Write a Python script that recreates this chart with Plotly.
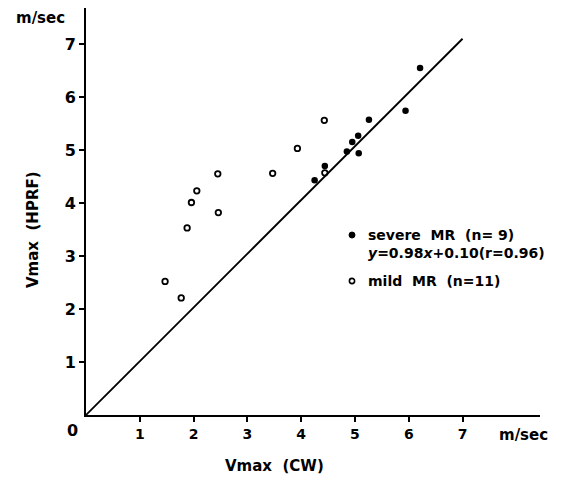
import plotly.graph_objects as go

# =============================================================================
# Data (m/sec)
# =============================================================================
severe_cw = [4.25, 4.44, 4.85, 4.95, 5.06, 5.07, 5.26, 5.94, 6.21]
severe_hprf = [4.43, 4.70, 4.97, 5.15, 5.27, 4.94, 5.57, 5.74, 6.55]

mild_cw = [1.47, 1.77, 1.88, 1.96, 2.06, 2.45, 2.46, 3.47, 3.93, 4.43, 4.44]
mild_hprf = [2.52, 2.21, 3.53, 4.01, 4.23, 4.55, 3.82, 4.56, 5.03, 5.56, 4.57]

line_x = [0, 7.0]
line_y = [0, 7.1]

x_ticks = [1, 2, 3, 4, 5, 6, 7]
y_ticks = [1, 2, 3, 4, 5, 6, 7]

legend_severe = 'severe  MR  (n= 9)'
legend_eq = '<i>y</i>=0.98<i>x</i>+0.10(r=0.96)'
legend_mild = 'mild  MR  (n=11)'

FONT = 'DejaVu Sans'

# plot area in pixels: left 86, right 540, top 8, bottom 415
def px(x):
    return (x - 86) / 454.0

def py(y):
    return (415 - y) / 407.0

fig = go.Figure()

fig.add_trace(go.Scatter(x=line_x, y=line_y, mode='lines',
                         line=dict(color='black', width=1.8),
                         showlegend=False, cliponaxis=False))
fig.add_trace(go.Scatter(x=mild_cw, y=mild_hprf, mode='markers',
                         marker=dict(symbol='circle-open', size=5.5, color='black',
                                     line=dict(width=1.8, color='black')),
                         showlegend=False, cliponaxis=False))
fig.add_trace(go.Scatter(x=severe_cw, y=severe_hprf, mode='markers',
                         marker=dict(symbol='circle', size=6.5, color='black'),
                         showlegend=False, cliponaxis=False))

axis_common = dict(showgrid=False, zeroline=False, showline=True,
                   linecolor='black', linewidth=2, ticks='outside',
                   ticklen=5, tickwidth=1.5, tickcolor='black')

fig.update_xaxes(range=[0, 8.44], tickvals=x_ticks,
                 tickfont=dict(family=FONT, size=14, color='black', weight='bold'),
                 **axis_common)
fig.update_yaxes(range=[0, 7.68], tickvals=y_ticks,
                 tickfont=dict(family=FONT, size=16, color='black', weight='bold'),
                 **axis_common)

def note(text, x, y, size=14, anchor='center', angle=0):
    fig.add_annotation(text=text, xref='paper', yref='paper', x=x, y=y,
                       xanchor=anchor, yanchor='middle', showarrow=False,
                       textangle=angle,
                       font=dict(family=FONT, size=size, color='black', weight='bold'))

note('0', px(72), py(430), size=16)
note('m/sec', px(40), py(18), size=15)
note('m/sec', px(523), py(435), size=15)
note('Vmax  (CW)', px(274), py(466), size=15)
note('Vmax  (HPRF)', px(33), py(230), size=15, angle=-90)

# legend
note(legend_severe, px(366), py(235), anchor='left')
note(legend_eq, px(366), py(253), anchor='left')
note(legend_mild, px(366), py(281), anchor='left')

fig.add_shape(type='circle', xref='paper', yref='paper',
              xsizemode='pixel', ysizemode='pixel',
              xanchor=px(352), yanchor=py(235), x0=-3, x1=3, y0=-3, y1=3,
              fillcolor='black', line=dict(color='black', width=1))
fig.add_shape(type='circle', xref='paper', yref='paper',
              xsizemode='pixel', ysizemode='pixel',
              xanchor=px(352), yanchor=py(281), x0=-2.6, x1=2.6, y0=-2.6, y1=2.6,
              fillcolor='white', line=dict(color='black', width=1.6))

fig.update_layout(width=564, height=478,
                  margin=dict(l=86, r=24, t=8, b=63),
                  paper_bgcolor='white', plot_bgcolor='white',
                  showlegend=False)

# drop the browser's default body margin so the 564x478 figure fills the window
fig.write_html('out.html', config={'displayModeBar': False},
               post_script="document.body.style.margin='0';")
